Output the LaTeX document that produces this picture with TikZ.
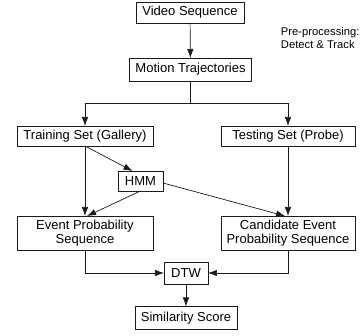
\documentclass[tikz,border=0pt]{standalone}
\usepackage{fontspec}
\setmainfont{Liberation Sans}
\usetikzlibrary{arrows.meta,positioning,calc}
\definecolor{cLine}{HTML}{1A1A1A}
\tikzset{
  blk/.style ={draw=cLine,fill=white,align=center,inner sep=2pt,line width=0.7pt,
               font=\fontsize{13}{14.5}\selectfont},
  sig/.style ={-{Latex[length=9pt,width=6.5pt]},draw=cLine,line width=0.7pt},
  lnk/.style ={draw=cLine,line width=0.7pt},
  lbl/.style ={font=\fontsize{11.2}{13}\selectfont,align=left,inner sep=0pt},
}
\begin{document}
\begin{tikzpicture}[x=1pt,y=-1pt,every node/.style={outer sep=0pt}]
\useasboundingbox (0,0) rectangle (360,336);
\node[blk,minimum width=108pt,minimum height=21pt] (vid)   at (190,12.5)  {Video Sequence};
\node[blk,minimum width=122pt,minimum height=23pt] (mot)   at (190.5,69.5) {Motion Trajectories};
\node[blk,minimum width=136pt,minimum height=20pt] (train) at (85,136)    {Training Set (Gallery)};
\node[blk,minimum width=134pt,minimum height=20pt] (test)  at (288,136)   {Testing Set (Probe)};
\node[blk,minimum width=45pt,minimum height=20pt]  (hmm)   at (140.5,181) {HMM};
\node[blk,minimum width=136pt,minimum height=34pt] (event) at (85,233)
  {Event Probability\\Sequence};
\node[blk,minimum width=134pt,minimum height=34pt] (cand)  at (288,233)
  {Candidate Event\\Probability Sequence};
\node[blk,minimum width=44pt,minimum height=22pt]  (dtw)   at (186,273)   {DTW};
\node[blk,minimum width=102pt,minimum height=23pt] (sim)   at (186,318)   {Similarity Score};

\node[lbl,anchor=north west] (pre) at (281,27) {Pre-processing:\\Detect \& Track};

\coordinate (split) at (190.5,103);
\draw[sig] (vid) -- (mot);
\draw[lnk] (mot.south) -- (split);
\draw[sig] (split) -| (train.north);
\draw[sig] (split) -| (test.north);

\draw[sig] (train) -- (event);
\draw[sig] (train.south) -- ([xshift=-8pt]hmm.north);
\draw[sig] (hmm.south) -- ([xshift=2pt]event.north);
\draw[sig] ([yshift=-2pt]hmm.east) -- ([xshift=-3pt]cand.north);
\draw[sig] (test) -- (cand);

\draw[sig] (event.south) |- (dtw.west);
\draw[sig] (cand.south) |- (dtw.east);
\draw[sig] (dtw) -- (sim);
\end{tikzpicture}
\end{document}
